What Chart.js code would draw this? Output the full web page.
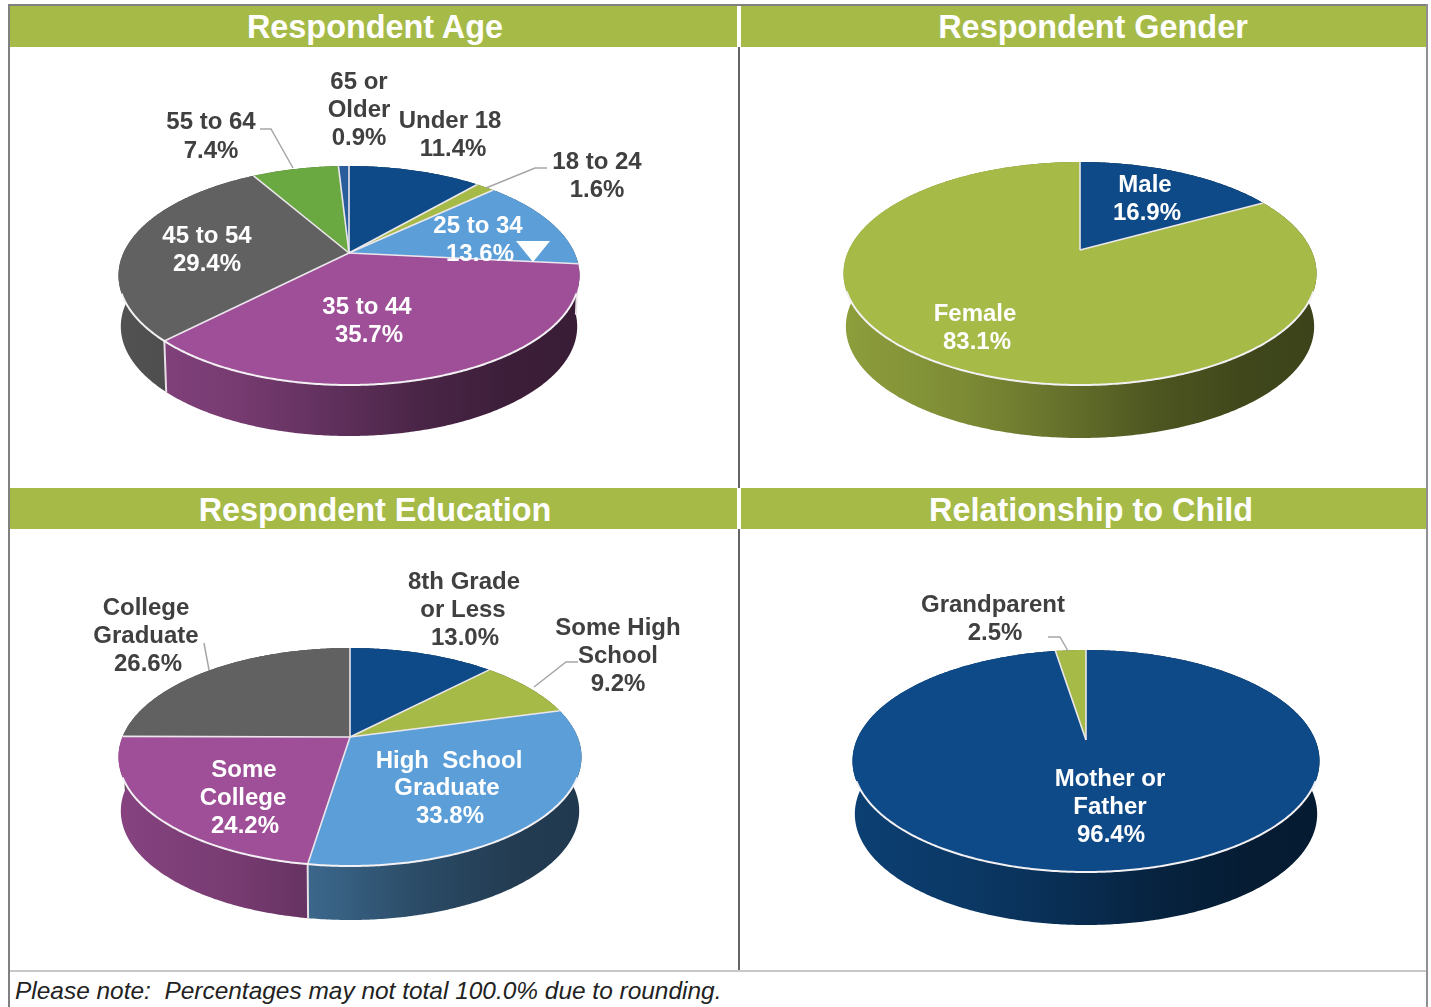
<!DOCTYPE html>
<html>
<head>
<meta charset="utf-8">
<title>Respondent profile</title>
<script src="https://cdn.jsdelivr.net/npm/chart.js@4"></script>
<style>
html, body { margin: 0; padding: 0; background: #fff; overflow: hidden; }
#page { position: relative; width: 1431px; height: 1007px; font-family: "Liberation Sans", Arial, sans-serif; }
#page div, #page canvas { position: absolute; }
.bar { background: #a6ba47; }
.head { color: #fff; font-weight: bold; font-size: 32.4px; line-height: 40px; transform: translateX(-50%); white-space: nowrap; }
#note { left: 15px; top: 977px; font-style: italic; font-size: 24.45px; line-height: 28px; color: #222; white-space: pre; }
</style>
</head>
<body>
<div id="page">
  <div style="left:9px;top:4px;width:1418px;height:2px;background:#808080"></div>
  <div style="left:8px;top:4px;width:2px;height:1003px;background:#808080"></div>
  <div style="left:1426px;top:4px;width:2px;height:1003px;background:#909090"></div>
  <div class="bar" style="left:10px;top:6px;width:727px;height:41px"></div>
  <div class="bar" style="left:741px;top:6px;width:685px;height:41px"></div>
  <div class="bar" style="left:10px;top:488px;width:727px;height:41px"></div>
  <div class="bar" style="left:741px;top:488px;width:685px;height:41px"></div>
  <div style="left:738px;top:47px;width:2px;height:441px;background:#666"></div>
  <div style="left:738px;top:529px;width:2px;height:442px;background:#666"></div>
  <div style="left:10px;top:970px;width:1416px;height:2px;background:#c8c8c8"></div>
  <div class="head" style="left:375px;top:7px">Respondent Age</div>
  <div class="head" style="left:1093px;top:7px">Respondent Gender</div>
  <div class="head" style="left:375px;top:490px">Respondent Education</div>
  <div class="head" style="left:1091px;top:490px">Relationship to Child</div>
  <canvas id="ageChart" width="728" height="441" style="left:10px;top:47px"></canvas>
  <canvas id="genderChart" width="685" height="441" style="left:741px;top:47px"></canvas>
  <canvas id="eduChart" width="728" height="441" style="left:10px;top:529px"></canvas>
  <canvas id="relChart" width="685" height="441" style="left:741px;top:529px"></canvas>
  <div id="note">Please note:  Percentages may not total 100.0% due to rounding.</div>
</div>
<script>
// values
const ageCategories = ['Under 18', '18 to 24', '25 to 34', '35 to 44', '45 to 54', '55 to 64', '65 or Older'];
const ageValues = [11.4, 1.6, 13.6, 35.7, 29.4, 7.4, 0.9];
const ageColors = ['#0e4a87', '#a6ba47', '#5c9fd8', '#9e4f97', '#616161', '#6aa842', '#2a5d9c'];

const genderCategories = ['Male', 'Female'];
const genderValues = [16.9, 83.1];
const genderColors = ['#0e4a87', '#a6ba47'];

const eduCategories = ['8th Grade or Less', 'Some High School', 'High School Graduate', 'Some College', 'College Graduate'];
const eduValues = [13.0, 9.2, 33.8, 24.2, 26.6];
const eduColors = ['#0e4a87', '#a6ba47', '#5c9fd8', '#9e4f97', '#616161'];

const relCategories = ['Mother or Father', 'Grandparent'];
const relValues = [96.4, 2.5];
const relColors = ['#0e4a87', '#a6ba47'];

const DARK = '#404040';
const WHITE = '#ffffff';

// pie shape on the page: apex, distance up / down / half width, side depth
const ageShape = { x: 349, y: 253, up: 87, down: 132, half: 230.5, depth: 51 };
const genderShape = { x: 1080, y: 250, up: 88, down: 135, half: 236.5, depth: 53 };
const eduShape = { x: 350, y: 737, up: 89, down: 129, half: 231.5, depth: 54 };
const relShape = { x: 1086, y: 740, up: 90, down: 132, half: 233.5, depth: 53 };

// label text boxes, page coordinates, one entry per line: [text, x, y]
const ageText = [
  { color: DARK, lines: [['Under 18', 450, 120], ['11.4%', 453, 148]] },
  { color: DARK, lines: [['18 to 24', 597, 161], ['1.6%', 597, 189]] },
  { color: WHITE, lines: [['25 to 34', 478, 225], ['13.6%', 480, 253]] },
  { color: WHITE, lines: [['35 to 44', 367, 306], ['35.7%', 369, 334]] },
  { color: WHITE, lines: [['45 to 54', 207, 235], ['29.4%', 207, 263]] },
  { color: DARK, lines: [['55 to 64', 211, 121], ['7.4%', 211, 150]] },
  { color: DARK, lines: [['65 or', 359, 81], ['Older', 359, 109], ['0.9%', 359, 137]] }
];
const genderText = [
  { color: WHITE, lines: [['Male', 1145, 184], ['16.9%', 1147, 212]] },
  { color: WHITE, lines: [['Female', 975, 313], ['83.1%', 977, 341]] }
];
const eduText = [
  { color: DARK, lines: [['8th Grade', 464, 581], ['or Less', 463, 609], ['13.0%', 465, 637]] },
  { color: DARK, lines: [['Some High', 618, 627], ['School', 618, 655], ['9.2%', 618, 683]] },
  { color: WHITE, lines: [['High  School', 449, 760], ['Graduate', 447, 787], ['33.8%', 450, 815]] },
  { color: WHITE, lines: [['Some', 244, 769], ['College', 243, 797], ['24.2%', 245, 825]] },
  { color: DARK, lines: [['College', 146, 607], ['Graduate', 146, 635], ['26.6%', 148, 663]] }
];
const relText = [
  { color: WHITE, lines: [['Mother or', 1110, 778], ['Father', 1110, 806], ['96.4%', 1111, 834]] },
  { color: DARK, lines: [['Grandparent', 993, 604], ['2.5%', 995, 632]] }
];

// leader lines, page coordinates
const ageLeaders = [[[547, 168], [535, 168], [486, 188]], [[260, 129], [271, 129], [293, 168]]];
const eduLeaders = [[[578, 662], [566, 662], [534, 687]], [[204, 643], [209, 670]]];
const relLeaders = [[[1048, 637], [1060, 637], [1068, 651]]];

// brightness of the side wall, left to right across the pie
const sideStops = [[0, 0.85], [0.25, 0.75], [0.45, 0.62], [0.65, 0.47], [0.85, 0.38], [1, 0.36]];

function shade(hex, f) {
  const n = parseInt(hex.slice(1), 16);
  return 'rgb(' + Math.round((n >> 16) * f) + ',' + Math.round(((n >> 8) & 255) * f) + ',' + Math.round((n & 255) * f) + ')';
}

// perspective view of the unit circle, the apex stays off the ellipse centre
function projector(s) {
  const k = (s.down - s.up) / (s.down + s.up);
  const a = s.down * (1 - k);
  const b = s.half * Math.sqrt(1 - k * k);
  return function (t, drop) {
    const d = 1 - k * Math.sin(t);
    const shrink = drop ? 0.99 : 1;
    return [s.x + shrink * b * Math.cos(t) / d, s.y + a * Math.sin(t) / d + (drop ? s.depth : 0)];
  };
}

function samples(a0, a1) {
  const n = Math.max(2, Math.ceil((a1 - a0) / 0.01));
  const out = [];
  for (let i = 0; i <= n; i++) out.push(a0 + (a1 - a0) * i / n);
  return out;
}

const pie3d = {
  id: 'pie3d',
  beforeDatasetDraw(chart, args, opts) {
    const ctx = chart.ctx;
    const s = opts.shape;
    const p = projector(s);
    const arcs = chart.getDatasetMeta(args.index).data;
    ctx.save();
    ctx.translate(-opts.left, -opts.top);

    // side walls
    arcs.forEach(function (arc) {
      const ts = samples(arc.startAngle, arc.endAngle);
      const g = ctx.createLinearGradient(s.x - s.half, 0, s.x + s.half, 0);
      sideStops.forEach(function (st) { g.addColorStop(st[0], shade(arc.options.backgroundColor, st[1])); });
      ctx.beginPath();
      ts.forEach(function (t, i) {
        const q = p(t, false);
        if (i) ctx.lineTo(q[0], q[1]); else ctx.moveTo(q[0], q[1]);
      });
      ts.slice().reverse().forEach(function (t) {
        const q = p(t, true);
        ctx.lineTo(q[0], q[1]);
      });
      ctx.closePath();
      ctx.fillStyle = g;
      ctx.fill();
    });

    // seams between the walls
    ctx.strokeStyle = '#e6dfe6';
    ctx.lineWidth = 2;
    arcs.forEach(function (arc) {
      if (Math.sin(arc.startAngle) < 0.1) return;
      const q0 = p(arc.startAngle, false), q1 = p(arc.startAngle, true);
      ctx.beginPath();
      ctx.moveTo(q0[0], q0[1]);
      ctx.lineTo(q1[0], q1[1]);
      ctx.stroke();
    });

    // top face
    arcs.forEach(function (arc) {
      ctx.beginPath();
      ctx.moveTo(s.x, s.y);
      samples(arc.startAngle, arc.endAngle).forEach(function (t) {
        const q = p(t, false);
        ctx.lineTo(q[0], q[1]);
      });
      ctx.closePath();
      ctx.fillStyle = arc.options.backgroundColor;
      ctx.fill();
    });

    // spokes and the bright front rim
    ctx.strokeStyle = '#ece7ec';
    ctx.lineWidth = 1.6;
    arcs.forEach(function (arc) {
      const q = p(arc.startAngle, false);
      ctx.beginPath();
      ctx.moveTo(s.x, s.y);
      ctx.lineTo(q[0], q[1]);
      ctx.stroke();
    });
    ctx.strokeStyle = '#f4f1f4';
    ctx.lineWidth = 2;
    ctx.beginPath();
    let pen = false;
    samples(-Math.PI / 2, Math.PI * 1.5).forEach(function (t) {
      if (Math.sin(t) < 0.35) { pen = false; return; }
      const q = p(t, false);
      if (pen) ctx.lineTo(q[0], q[1]); else ctx.moveTo(q[0], q[1]);
      pen = true;
    });
    ctx.stroke();

    ctx.restore();
    return false;
  },
  afterDraw(chart, args, opts) {
    const ctx = chart.ctx;
    ctx.save();
    ctx.translate(-opts.left, -opts.top);

    ctx.strokeStyle = '#a6a6a6';
    ctx.lineWidth = 1.5;
    opts.leaders.forEach(function (l) {
      ctx.beginPath();
      l.forEach(function (q, i) {
        if (i) ctx.lineTo(q[0], q[1]); else ctx.moveTo(q[0], q[1]);
      });
      ctx.stroke();
    });

    ctx.font = 'bold 24px "Liberation Sans", Arial, sans-serif';
    ctx.textAlign = 'center';
    ctx.textBaseline = 'middle';
    opts.text.forEach(function (box) {
      ctx.fillStyle = box.color;
      box.lines.forEach(function (l) { ctx.fillText(l[0], l[1], l[2] + 1); });
    });

    // the small white flag next to 13.6%
    if (opts.flag) {
      ctx.fillStyle = WHITE;
      ctx.beginPath();
      ctx.moveTo(opts.flag[0] - 17, opts.flag[1] - 10);
      ctx.lineTo(opts.flag[0] + 17, opts.flag[1] - 10);
      ctx.lineTo(opts.flag[0], opts.flag[1] + 11);
      ctx.closePath();
      ctx.fill();
    }
    ctx.restore();
  }
};

function makePie(id, categories, values, colors, shape, text, leaders, flag) {
  const el = document.getElementById(id);
  return new Chart(el.getContext('2d'), {
    type: 'pie',
    data: {
      labels: categories,
      datasets: [{ data: values, backgroundColor: colors }]
    },
    options: {
      responsive: false,
      animation: false,
      events: [],
      plugins: {
        legend: { display: false },
        tooltip: { enabled: false },
        pie3d: {
          shape: shape, text: text, leaders: leaders, flag: flag,
          left: parseInt(el.style.left), top: parseInt(el.style.top)
        }
      }
    },
    plugins: [pie3d]
  });
}

makePie('ageChart', ageCategories, ageValues, ageColors, ageShape, ageText, ageLeaders, [533, 251]);
makePie('genderChart', genderCategories, genderValues, genderColors, genderShape, genderText, [], null);
makePie('eduChart', eduCategories, eduValues, eduColors, eduShape, eduText, eduLeaders, null);
makePie('relChart', relCategories, relValues, relColors, relShape, relText, relLeaders, null);
</script>
</body>
</html>
